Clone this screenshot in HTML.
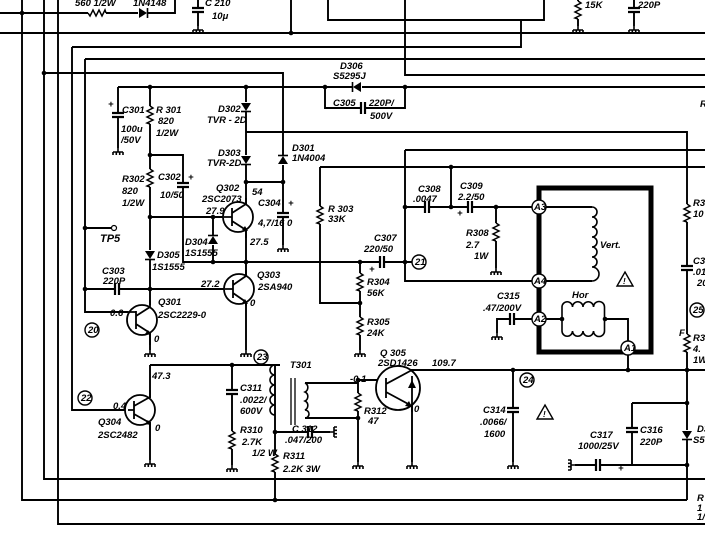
<!DOCTYPE html>
<html><head><meta charset="utf-8"><style>
html,body{margin:0;padding:0;background:#fff}
svg{display:block}
text{font-family:"Liberation Sans",sans-serif;font-style:italic;font-weight:bold;font-size:9.5px;fill:#000}
</style></head><body>
<svg width="705" height="553" viewBox="0 0 705 553" xmlns="http://www.w3.org/2000/svg">
<defs>
<g id="rv"><rect x="-4" y="-9" width="8" height="18" fill="#fff"/><path d="M0 -9 l3 2 l-6 3 l6 3 l-6 3 l6 3 l-6 3 l3 1" fill="none" stroke="#000" stroke-width="1.5"/></g>
<g id="rh"><rect x="-9" y="-4" width="18" height="8" fill="#fff"/><path d="M-9 0 l2 3 l3 -6 l3 6 l3 -6 l3 6 l3 -6 l1 3" fill="none" stroke="#000" stroke-width="1.5"/></g>
<g id="cv"><rect x="-6" y="-3" width="12" height="6" fill="#fff"/><path d="M-6 -2h12M-6 2h12" stroke="#000" stroke-width="2.2"/></g>
<g id="ch"><rect x="-3" y="-6" width="6" height="12" fill="#fff"/><path d="M-2 -6v12M2 -6v12" stroke="#000" stroke-width="2.2"/></g>
<g id="gnd"><path d="M0 0v4M-5 4h10M-5 4v3M-1.7 4v3M1.7 4v3M5 4v3" stroke="#000" stroke-width="1.6" fill="none"/></g>
<g id="dd"><rect x="-5" y="-5" width="10" height="10" fill="#fff"/><path d="M-5 -4h10l-5 8z" fill="#000"/><path d="M-5 4.5h10" stroke="#000" stroke-width="1.6"/></g>
<g id="du"><rect x="-5" y="-5" width="10" height="10" fill="#fff"/><path d="M-5 4h10l-5 -8z" fill="#000"/><path d="M-5 -4.5h10" stroke="#000" stroke-width="1.6"/></g>
</defs>
<g stroke="#000" stroke-width="1.9" fill="none">
<path d="M0 13H175V0M0 33H705M291 0V33M72 47H521V20M328 0V20H544V0M85 59H705M405 0V75H705"/>
<path d="M198 0V26M578 0V26M634 0V26"/>
<path d="M44 73H283V245M118 87H705M325 87V108H405V87M246 132H687V500M405 150H705M405 150V281H535M320 167H705M320 167V303H360"/>
<path d="M22 0V500H687M44 0V479H705M58 0V524H705"/>
<path d="M72 47V410H128M85 59V312H128M85 228H111M85 289H150M150 289H225"/>
<path d="M150 87V305M118 87V148M150 155H183V262H246M150 217H224M213 217V262M246 87V205M246 230V275M246 302V350M246 182H283M150 325V350"/>
<path d="M246 262H405M360 262V350M405 262H412"/>
<path d="M405 207H535M451 207V167M496 207V268"/>
<path d="M546 207H592M546 281H592M546 319H562M605 319H628V341M539 319H497V333"/>
<path d="M628 355V370M405 370H705M513 370V462"/>
<path d="M150 365H280M150 365V398M150 422V460M232 365V465M275 365V500M275 432H330"/>
<path d="M305 383H358M305 418H358M358 380V462M358 380H386M412 370V376M412 400V462"/>
<path d="M632 403H687M632 403V465H687M575 465H632"/>
</g>
<path d="M539 188H651V352H539Z" stroke="#000" stroke-width="5" fill="none"/>
<g stroke="#000" stroke-width="1.6" fill="none">
<path d="M592 207 a5 5 0 0 1 0 10 a5 5 0 0 1 0 10 a5 5 0 0 1 0 10 a5 5 0 0 1 0 10 a5 5 0 0 1 0 10 a5 5 0 0 1 0 10 a5 5 0 0 1 0 14"/>
<path d="M562 319V307 a5 5 0 0 1 10.5 0 a5 5 0 0 1 10.5 0 a5 5 0 0 1 10.5 0 a5 5 0 0 1 11 0 V319"/>
<path d="M562 319V331 a5 5 0 0 0 10.5 0 a5 5 0 0 0 10.5 0 a5 5 0 0 0 10.5 0 a5 5 0 0 0 11 0 V319"/>
<path d="M275 365 a5 5 0 0 0 0 10 a5 5 0 0 0 0 10 a5 5 0 0 0 0 10 a5 5 0 0 0 0 10 a5 5 0 0 0 0 10"/>
<path d="M305 383 a5 5 0 0 1 0 9 a5 5 0 0 1 0 9 a5 5 0 0 1 0 9 a4 4 0 0 1 0 8"/>
<path d="M291 378V425M295 378V425" stroke-width="1.3"/>
</g>
<g transform="translate(357 87) rotate(90)"><use href="#dd"/></g>
<use href="#dd" x="246" y="107"/><use href="#dd" x="246" y="160"/>
<use href="#du" x="283" y="160"/><use href="#du" x="213" y="240"/>
<use href="#dd" x="150" y="255"/><use href="#dd" x="687" y="435"/>
<g transform="translate(143 13) rotate(-90)"><use href="#dd"/></g>
<use href="#rh" x="97" y="13"/>
<use href="#rv" x="150" y="115"/><use href="#rv" x="150" y="178"/><use href="#rv" x="320" y="215"/>
<use href="#rv" x="360" y="282"/><use href="#rv" x="360" y="326"/><use href="#rv" x="496" y="232"/>
<use href="#rv" x="232" y="440"/><use href="#rv" x="275" y="463"/><use href="#rv" x="358" y="402"/>
<use href="#rv" x="687" y="213"/><use href="#rv" x="687" y="343"/><use href="#rv" x="578" y="10"/>
<use href="#cv" x="118" y="115"/><use href="#cv" x="183" y="185"/><use href="#cv" x="283" y="215"/>
<use href="#cv" x="232" y="392"/><use href="#cv" x="513" y="410"/><use href="#cv" x="632" y="430"/>
<use href="#cv" x="687" y="268"/><use href="#cv" x="198" y="10"/><use href="#cv" x="634" y="10"/>
<use href="#ch" x="117" y="289"/><use href="#ch" x="363" y="108"/><use href="#ch" x="382" y="262"/>
<use href="#ch" x="427" y="207"/><use href="#ch" x="470" y="207"/><use href="#ch" x="512" y="319"/>
<use href="#ch" x="310" y="432"/><use href="#ch" x="598" y="465"/>
<use href="#gnd" x="118" y="148"/><use href="#gnd" x="283" y="245"/><use href="#gnd" x="246" y="350"/>
<use href="#gnd" x="150" y="350"/><use href="#gnd" x="360" y="350"/><use href="#gnd" x="496" y="268"/>
<use href="#gnd" x="497" y="333"/><use href="#gnd" x="150" y="460"/><use href="#gnd" x="232" y="465"/>
<use href="#gnd" x="358" y="462"/><use href="#gnd" x="412" y="462"/><use href="#gnd" x="513" y="462"/>
<use href="#gnd" x="198" y="26"/><use href="#gnd" x="578" y="26"/><use href="#gnd" x="634" y="26"/>
<g transform="translate(330 432) rotate(-90)"><use href="#gnd"/></g>
<g transform="translate(575 465) rotate(90)"><use href="#gnd"/></g>
<g stroke="#000" stroke-width="1.8" fill="none">
<circle cx="238" cy="217" r="15" fill="#fff"/><path d="M224 217h8M232 208v18M232 213l14 -9V198M232 221l14 9V238"/>
<circle cx="239" cy="289" r="15" fill="#fff"/><path d="M225 289h8M233 280v18M233 285l13 -9V270M233 293l13 9V306"/>
<circle cx="142" cy="320" r="15" fill="#fff"/><path d="M128 312h8M136 311v18M136 316l14 -9V300M136 324l14 9V345"/>
<circle cx="140" cy="410" r="15" fill="#fff"/><path d="M128 410h6M134 401v18M134 406l16 -9V390M134 414l16 9V430"/>
<circle cx="398" cy="388" r="22" fill="#fff"/><path d="M386 378v20M386 384l26 -14M386 392l26 14V412M412 376V408"/>
</g>
<path d="M248 231l-6 -1 3 -4z M248 304l-6 -1 3 -4z M151 335l-6 -1 3 -4z M151 425l-6 -1 3 -4z M412 407l-7 -1 4 -5z M412 380l-4 8h8z" fill="#000"/>
<g fill="#000">
<circle cx="22" cy="13" r="2.3"/><circle cx="291" cy="33" r="2.3"/><circle cx="44" cy="73" r="2.3"/>
<circle cx="150" cy="87" r="2.3"/><circle cx="246" cy="87" r="2.3"/><circle cx="325" cy="87" r="2.3"/><circle cx="405" cy="87" r="2.3"/>
<circle cx="150" cy="155" r="2.3"/><circle cx="150" cy="217" r="2.3"/><circle cx="150" cy="289" r="2.3"/><circle cx="213" cy="217" r="2.3"/>
<circle cx="213" cy="262" r="2.3"/><circle cx="246" cy="262" r="2.3"/><circle cx="246" cy="182" r="2.3"/><circle cx="283" cy="182" r="2.3"/>
<circle cx="85" cy="228" r="2.3"/><circle cx="85" cy="289" r="2.3"/><circle cx="360" cy="262" r="2.3"/><circle cx="360" cy="303" r="2.3"/>
<circle cx="405" cy="262" r="2.3"/><circle cx="405" cy="207" r="2.3"/><circle cx="451" cy="207" r="2.3"/><circle cx="451" cy="167" r="2.3"/>
<circle cx="496" cy="207" r="2.3"/><circle cx="562" cy="319" r="2.3"/><circle cx="605" cy="319" r="2.3"/>
<circle cx="513" cy="370" r="2.3"/><circle cx="628" cy="370" r="2.3"/><circle cx="687" cy="370" r="2.3"/>
<circle cx="232" cy="365" r="2.3"/><circle cx="275" cy="432" r="2.3"/><circle cx="275" cy="500" r="2.3"/>
<circle cx="358" cy="380" r="2.3"/><circle cx="358" cy="418" r="2.3"/><circle cx="687" cy="403" r="2.3"/><circle cx="687" cy="465" r="2.3"/>
</g>
<circle cx="114" cy="228" r="2.5" fill="#fff" stroke="#000" stroke-width="1.2"/>
<g stroke="#000" stroke-width="1.4" fill="#fff">
<circle cx="539" cy="207" r="7"/><circle cx="539" cy="281" r="7"/><circle cx="539" cy="319" r="7"/><circle cx="628" cy="348" r="7"/>
<circle cx="92" cy="330" r="7"/><circle cx="419" cy="262" r="7"/><circle cx="261" cy="357" r="7"/><circle cx="85" cy="398" r="7"/>
<circle cx="527" cy="380" r="7"/><circle cx="697" cy="310" r="7"/>
</g>
<g style="font-size:7px">
<text x="534" y="210">A3</text><text x="534" y="284">A4</text><text x="534" y="322">A2</text><text x="624" y="351">A1</text>
<text x="88" y="333">20</text><text x="415" y="265">21</text><text x="257" y="360">23</text><text x="81" y="401">22</text>
<text x="523" y="383">24</text><text x="693" y="313">25</text>
</g>
<path d="M625 272l8 14h-16z M545 405l8 14h-16z" fill="none" stroke="#000" stroke-width="1.4"/>
<text x="623" y="284" style="font-size:8px">!</text><text x="543" y="417" style="font-size:8px">!</text>
<text x="75" y="6">560 1/2W</text><text x="133" y="6">1N4148</text><text x="205" y="6">C 210</text><text x="212" y="19">10μ</text>
<text x="585" y="8">15K</text><text x="638" y="8">220P</text>
<text x="340" y="69">D306</text><text x="333" y="79">S5295J</text><text x="333" y="106">C305</text><text x="369" y="106">220P/</text><text x="370" y="119">500V</text>
<text x="700" y="107">R</text>
<text x="156" y="113">R 301</text><text x="158" y="124">820</text><text x="156" y="136">1/2W</text>
<text x="108" y="107">+</text><text x="122" y="113">C301</text><text x="121" y="132">100u</text><text x="121" y="143">/50V</text>
<text x="218" y="112">D302</text><text x="207" y="123">TVR - 2D</text>
<text x="218" y="156">D303</text><text x="207" y="166">TVR-2D</text>
<text x="292" y="151">D301</text><text x="292" y="161">1N4004</text>
<text x="122" y="182">R302</text><text x="122" y="194">820</text><text x="122" y="206">1/2W</text>
<text x="158" y="180">C302</text><text x="160" y="198">10/50</text><text x="188" y="180">+</text>
<text x="216" y="191">Q302</text><text x="202" y="202">2SC2073</text><text x="252" y="195">54</text><text x="206" y="214">27.9</text>
<text x="258" y="206">C304</text><text x="288" y="206">+</text><text x="258" y="226">4,7/16 0</text><text x="250" y="245">27.5</text>
<text x="185" y="245">D304</text><text x="185" y="256">1S1555</text>
<text x="157" y="258">D305</text><text x="152" y="270">1S1555</text>
<text x="100" y="242" style="font-size:11px">TP5</text>
<text x="102" y="274">C303</text><text x="103" y="284">220P</text>
<text x="158" y="305">Q301</text><text x="158" y="318">2SC2229-0</text><text x="110" y="316">0.6</text><text x="154" y="342">0</text>
<text x="257" y="278">Q303</text><text x="258" y="290">2SA940</text><text x="201" y="287">27.2</text><text x="250" y="306">0</text>
<text x="328" y="212">R 303</text><text x="328" y="222">33K</text>
<text x="374" y="241">C307</text><text x="364" y="252">220/50</text><text x="369" y="272">+</text>
<text x="367" y="285">R304</text><text x="367" y="296">56K</text><text x="367" y="325">R305</text><text x="367" y="336">24K</text>
<text x="418" y="192">C308</text><text x="413" y="202">.0047</text><text x="460" y="189">C309</text><text x="458" y="200">2.2/50</text><text x="457" y="216">+</text>
<text x="466" y="236">R308</text><text x="466" y="248">2.7</text><text x="474" y="259">1W</text>
<text x="600" y="248">Vert.</text><text x="572" y="298">Hor</text>
<text x="497" y="299">C315</text><text x="483" y="311">.47/200V</text>
<text x="380" y="356">Q 305</text><text x="378" y="366">2SD1426</text><text x="432" y="366">109.7</text><text x="350" y="382">-0.1</text>
<text x="290" y="368">T301</text>
<text x="240" y="391">C311</text><text x="240" y="403">.0022/</text><text x="240" y="414">600V</text>
<text x="240" y="433">R310</text><text x="242" y="445">2.7K</text><text x="252" y="456">1/2 W</text>
<text x="292" y="432">C 312</text><text x="285" y="443">.047/200</text>
<text x="283" y="459">R311</text><text x="283" y="472">2.2K 3W</text>
<text x="364" y="414">R312</text><text x="368" y="424">47</text><text x="414" y="412">0</text>
<text x="152" y="379">47.3</text><text x="113" y="409">0.4</text><text x="98" y="425">Q304</text><text x="98" y="438">2SC2482</text><text x="155" y="431">0</text>
<text x="483" y="413">C314</text><text x="480" y="425">.0066/</text><text x="484" y="437">1600</text>
<text x="590" y="438">C317</text><text x="578" y="449">1000/25V</text><text x="618" y="471">+</text>
<text x="640" y="433">C316</text><text x="640" y="445">220P</text>
<text x="693" y="206">R3</text><text x="693" y="217">10</text><text x="693" y="264">C3</text><text x="693" y="275">.01</text><text x="697" y="286">20</text>
<text x="679" y="336">F</text><text x="693" y="341">R3</text><text x="693" y="352">4.</text><text x="693" y="363">1W</text>
<text x="697" y="432">D3</text><text x="693" y="443">S5</text>
<text x="697" y="501">R</text><text x="697" y="511">1</text><text x="697" y="520">1/</text>
</svg>
</body></html>
